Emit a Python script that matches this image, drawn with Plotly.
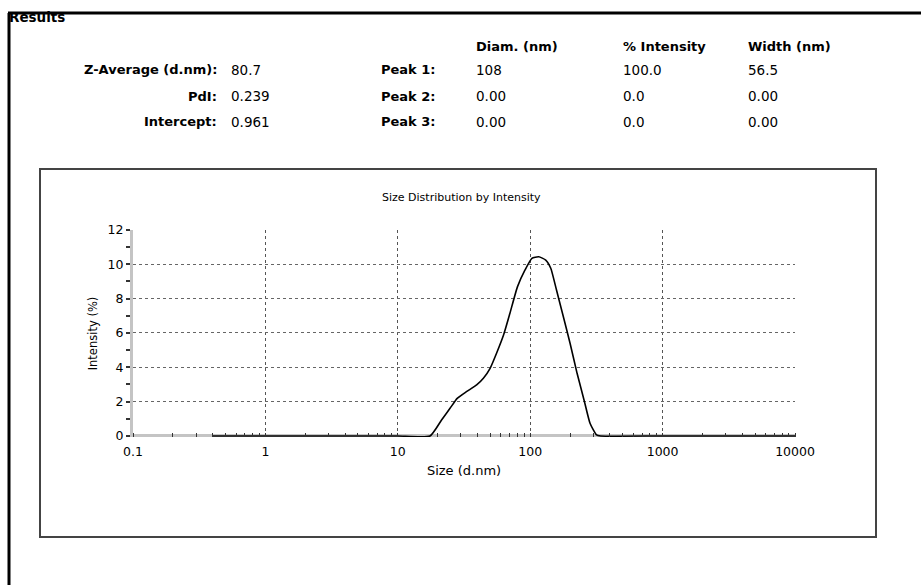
import plotly.graph_objects as go

# ---- data ----
size_nm = [0.4, 5, 10, 17.5, 21.4, 24.8, 28.1, 33.0, 39.4, 44.3, 49.8, 55.7, 62.9, 70.3, 80.2,
           91.4, 103, 116, 131, 143, 158, 178, 200, 226, 255, 283, 317, 340, 1000, 10000]
intensity = [0, 0, 0, 0, 0.93, 1.61, 2.19, 2.58, 2.97, 3.36, 3.94, 4.82, 5.88, 7.15, 8.70,
             9.67, 10.35, 10.44, 10.25, 9.77, 8.50, 6.95, 5.40, 3.65, 2.10, 0.74, 0.06, 0, 0, 0]

x_tick_vals = [0.1, 1, 10, 100, 1000, 10000]
x_tick_text = ["0.1", "1", "10", "100", "1000", "10000"]
y_tick_vals = [0, 2, 4, 6, 8, 10, 12]

summary_labels = ["Z-Average (d.nm):", "PdI:", "Intercept:"]
summary_values = ["80.7", "0.239", "0.961"]
peak_labels = ["Peak 1:", "Peak 2:", "Peak 3:"]
peak_headers = ["Diam. (nm)", "% Intensity", "Width (nm)"]
peak_diam = ["108", "0.00", "0.00"]
peak_int = ["100.0", "0.0", "0.0"]
peak_width = ["56.5", "0.00", "0.00"]

W, H = 921, 585
L, R, T, B = 133, 795, 230, 437
PW, PH = R - L, B - T

def px(x):
    return (x - L) / PW

def py(y):
    return (B - y) / PH

FONT = "DejaVu Sans, Verdana, sans-serif"

fig = go.Figure()
fig.add_trace(go.Scatter(
    x=size_nm, y=intensity, mode="lines", cliponaxis=False,
    line=dict(color="black", width=1.6, shape="spline", smoothing=0.5),
    showlegend=False, hoverinfo="skip"))

fig.update_layout(
    width=W, height=H, autosize=False,
    margin=dict(l=L, r=W - R, t=T, b=H - B),
    paper_bgcolor="white", plot_bgcolor="white",
    font=dict(family=FONT, size=10, color="black"),
    xaxis=dict(
        type="log", range=[-1, 4],
        tickvals=x_tick_vals, ticktext=x_tick_text,
        ticks="", showgrid=True, gridcolor="#555", griddash="dot", gridwidth=1,
        showline=False, ticklabelstandoff=5,
        tickfont=dict(size=12.5, family=FONT),
        title=dict(text="Size (d.nm)", font=dict(size=13, family=FONT), standoff=8),
        zeroline=False,
        minor=dict(dtick="D1", ticks="inside", ticklen=4, tickcolor="#333", tickwidth=1, showgrid=False),
    ),
    yaxis=dict(
        range=[-0.06, 12], tickvals=y_tick_vals,
        ticks="outside", ticklen=4, tickcolor="#333", tickwidth=2,
        showgrid=True, gridcolor="#666", griddash="dot", gridwidth=1,
        showline=True, linecolor="#c4c4c4", linewidth=3,
        zeroline=True, zerolinecolor="#c4c4c4", zerolinewidth=3,
        tickfont=dict(size=12.5, family=FONT),
        title=dict(text="Intensity (%)", font=dict(size=11.5, family=FONT), standoff=8),
        minor=dict(dtick=1, ticks="outside", ticklen=4, tickcolor="#333", tickwidth=2, showgrid=False),
    ),
)

# frames
fig.add_shape(type="line", xref="paper", yref="paper", x0=px(8), x1=px(921), y0=py(13), y1=py(13),
              line=dict(color="black", width=3), layer="above")
fig.add_shape(type="line", xref="paper", yref="paper", x0=px(9), x1=px(9), y0=py(13), y1=py(585),
              line=dict(color="black", width=3), layer="above")
fig.add_shape(type="rect", xref="paper", yref="paper", x0=px(40), x1=px(876), y0=py(169), y1=py(537),
              line=dict(color="#444", width=2), layer="below")

def ann(text, x, y, xanchor="left", size=13, bold=False):
    fig.add_annotation(text=f"<b>{text}</b>" if bold else text, x=px(x), y=py(y),
                       xref="paper", yref="paper", xanchor=xanchor, yanchor="middle",
                       showarrow=False, font=dict(family=FONT, size=size, color="black"))

ann("Results", 7, 17, bold=True, size=13.5)
ann("Size Distribution by Intensity", 461, 197, xanchor="center", size=11)

row_y = [70, 96, 122]
for i in range(3):
    ann(summary_labels[i], 219, row_y[i], xanchor="right", bold=True)
    ann(summary_values[i], 229, row_y[i], size=13.5)
    ann(peak_labels[i], 438, row_y[i], xanchor="right", bold=True)
    ann(peak_diam[i], 474, row_y[i], size=13.5)
    ann(peak_int[i], 621, row_y[i], size=13.5)
    ann(peak_width[i], 746, row_y[i], size=13.5)

for h, x in zip(peak_headers, [474, 621, 746]):
    ann(h, x, 46, bold=True)

fig.write_html("out.html")
